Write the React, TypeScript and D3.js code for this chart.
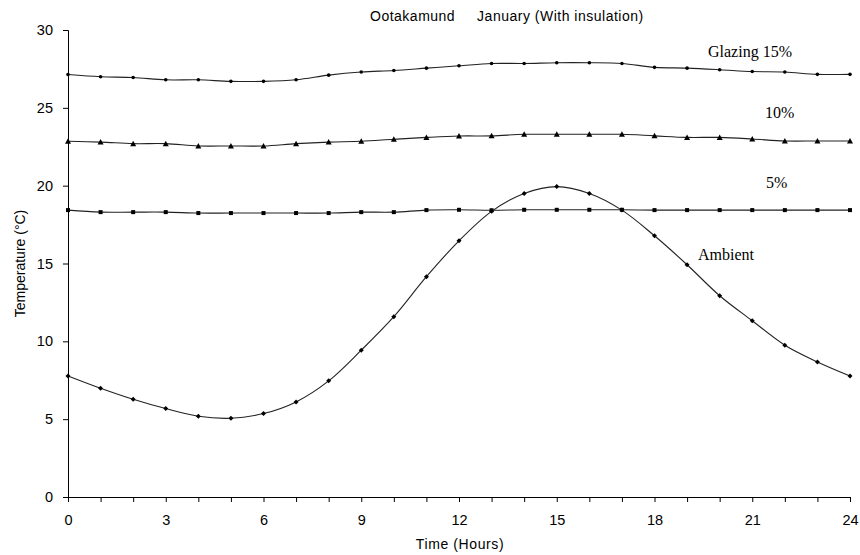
import React, { useRef, useEffect } from "react";
import * as d3 from "d3";

// hours 0..24
const hours = d3.range(0, 25);
const ticksX = [0, 3, 6, 9, 12, 15, 18, 21, 24];
const ticksY = [0, 5, 10, 15, 20, 25, 30];

const glazing15 = [27.14, 27.0, 26.95, 26.8, 26.8, 26.7, 26.7, 26.8, 27.1, 27.3, 27.4, 27.55,
  27.7, 27.85, 27.85, 27.9, 27.9, 27.85, 27.6, 27.55, 27.45, 27.33, 27.3, 27.15, 27.15];
const glazing10 = [22.85, 22.8, 22.7, 22.7, 22.55, 22.55, 22.55, 22.7, 22.8, 22.85, 22.98, 23.1,
  23.19, 23.2, 23.3, 23.3, 23.3, 23.3, 23.2, 23.1, 23.1, 23.0, 22.87, 22.87, 22.87];
const glazing5 = [18.43, 18.3, 18.3, 18.3, 18.24, 18.24, 18.24, 18.24, 18.24, 18.3, 18.3, 18.43,
  18.45, 18.42, 18.45, 18.45, 18.45, 18.45, 18.43, 18.43, 18.43, 18.43, 18.43, 18.43, 18.43];
const ambient = [7.78, 6.99, 6.28, 5.68, 5.19, 5.06, 5.36, 6.11, 7.46, 9.43, 11.58, 14.15,
  16.46, 18.35, 19.5, 19.94, 19.5, 18.43, 16.78, 14.92, 12.93, 11.32, 9.75, 8.68, 7.78];

const seriesList = [
  { name: "Glazing 15%", values: glazing15, marker: "dot", label: "Glazing 15%", lx: 708, ly: 57 },
  { name: "10%", values: glazing10, marker: "triangle", label: "10%", lx: 765, ly: 118 },
  { name: "5%", values: glazing5, marker: "square", label: "5%", lx: 766, ly: 188 },
  { name: "Ambient", values: ambient, marker: "plus", label: "Ambient", lx: 698, ly: 260 },
];

function App() {
  const svgRef = useRef<SVGSVGElement>(null);

  useEffect(() => {
    d3.select(svgRef.current).selectAll("*").remove();
    const width = 860;
    const height = 555;
    const margin = { left: 68, right: 10, top: 30, bottom: 58 };

    const svg = d3.select(svgRef.current)
      .attr("width", width)
      .attr("height", height)
      .style("font-family", "Arial, 'Liberation Sans', sans-serif");

    const x = d3.scaleLinear().domain([0, 24]).range([margin.left, width - margin.right]);
    const y = d3.scaleLinear().domain([0, 30]).range([height - margin.bottom, margin.top]);

    // axes
    const xAxis = d3.axisBottom(x).tickValues(hours).tickSize(5)
      .tickFormat((d) => (ticksX.includes(+d) ? String(d) : ""));
    const gx = svg.append("g")
      .attr("transform", `translate(0, ${y(0)})`)
      .call(xAxis);
    gx.select(".domain").attr("stroke", "#000");
    gx.selectAll("text").attr("font-size", 14.5).attr("dy", "1.4em").attr("fill", "#000");
    gx.selectAll("line").attr("stroke", "#000");

    const yAxis = d3.axisLeft(y).tickValues(ticksY).tickSize(5).tickPadding(10);
    const gy = svg.append("g")
      .attr("transform", `translate(${x(0)}, 0)`)
      .call(yAxis);
    gy.select(".domain").attr("stroke", "#000");
    gy.selectAll("text").attr("font-size", 14.5).attr("fill", "#000");
    gy.selectAll("line").attr("stroke", "#000");

    // title and axis labels
    svg.append("text")
      .attr("x", 370).attr("y", 21)
      .attr("font-size", 14).attr("letter-spacing", 0.5)
      .style("white-space", "pre")
      .text("Ootakamund     January (With insulation)");

    svg.append("text")
      .attr("x", 460).attr("y", 549)
      .attr("text-anchor", "middle")
      .attr("font-size", 14).attr("letter-spacing", 0.6)
      .text("Time (Hours)");

    svg.append("text")
      .attr("transform", `translate(25, ${(y(0) + y(30)) / 2}) rotate(-90)`)
      .attr("text-anchor", "middle")
      .attr("font-size", 14)
      .text("Temperature (°C)");

    // lines
    const line = d3.line<number>()
      .x((d, i) => x(hours[i]))
      .y((d) => y(d))
      .curve(d3.curveCatmullRom.alpha(0.5));

    seriesList.forEach((s) => {
      svg.append("path")
        .datum(s.values)
        .attr("fill", "none")
        .attr("stroke", "#222")
        .attr("stroke-width", 1.1)
        .attr("d", line);

      const g = svg.append("g");
      s.values.forEach((v, i) => {
        const cx = x(hours[i]);
        const cy = y(v);
        if (s.marker === "dot") {
          g.append("circle").attr("cx", cx).attr("cy", cy).attr("r", 1.8).attr("fill", "#000");
        } else if (s.marker === "triangle") {
          g.append("path")
            .attr("d", `M${cx},${cy - 3}L${cx + 3},${cy + 2.5}L${cx - 3},${cy + 2.5}Z`)
            .attr("fill", "#000");
        } else if (s.marker === "square") {
          g.append("rect").attr("x", cx - 2).attr("y", cy - 2).attr("width", 4).attr("height", 4)
            .attr("fill", "#000");
        } else {
          g.append("path")
            .attr("d", `M${cx - 2.5},${cy}L${cx},${cy - 2.5}L${cx + 2.5},${cy}L${cx},${cy + 2.5}Z`)
            .attr("fill", "#000");
        }
      });

      svg.append("text")
        .attr("x", s.lx).attr("y", s.ly)
        .attr("font-family", "'Times New Roman', 'Liberation Serif', serif")
        .attr("font-size", 16)
        .text(s.label);
    });
  }, []);

  return (
    <div>
      <svg ref={svgRef} style={{ position: "absolute", left: 0, top: 0 }}></svg>
    </div>
  );
}

export default App;
